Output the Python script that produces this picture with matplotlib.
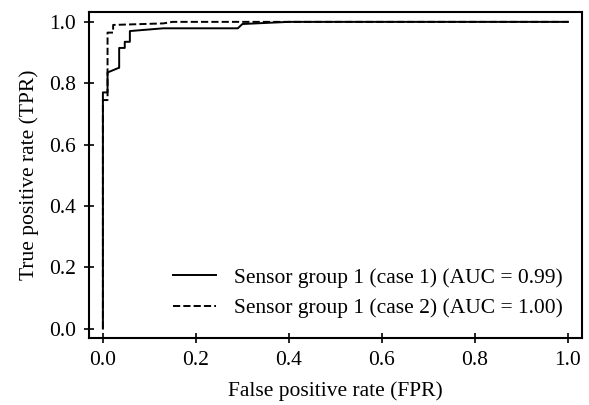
import matplotlib.pyplot as plt

plt.rcParams['font.family'] = ['Liberation Serif', 'DejaVu Serif']

# ROC curve, case 1 (solid)
fpr_case1 = [0.0, 0.0, 0.01, 0.01, 0.034, 0.035, 0.035, 0.047, 0.047, 0.058, 0.058,
             0.13, 0.29, 0.30, 0.40, 1.0]
tpr_case1 = [0.0, 0.77, 0.77, 0.835, 0.85, 0.85, 0.915, 0.915, 0.935, 0.935, 0.97,
             0.979, 0.979, 0.993, 1.0, 1.0]

# ROC curve, case 2 (dashed)
fpr_case2 = [0.0, 0.0, 0.01, 0.01, 0.022, 0.022, 0.13, 0.15, 1.0]
tpr_case2 = [0.0, 0.745, 0.745, 0.965, 0.965, 0.99, 0.995, 1.0, 1.0]

labels = ['Sensor group 1 (case 1) (AUC = 0.99)',
          'Sensor group 1 (case 2) (AUC = 1.00)']

fig = plt.figure(figsize=(5.89, 4.05), dpi=100)
ax = fig.add_axes([0.151, 0.166, 0.837, 0.805])

ax.plot(fpr_case1, tpr_case1, color='black', linestyle='-', linewidth=1.4, label=labels[0])
ax.plot(fpr_case2, tpr_case2, color='black', linestyle='--', linewidth=1.4, label=labels[1])

ax.set_xlim(-0.03, 1.03)
ax.set_ylim(-0.03, 1.033)
ax.set_xticks([0.0, 0.2, 0.4, 0.6, 0.8, 1.0])
ax.set_yticks([0.0, 0.2, 0.4, 0.6, 0.8, 1.0])
ax.tick_params(direction='inout', length=7, width=1.2, labelsize=15.5, pad=6)
for sp in ax.spines.values():
    sp.set_linewidth(1.5)

ax.set_xlabel('False positive rate (FPR)', fontsize=15.5, labelpad=8)
ax.set_ylabel('True positive rate (TPR)', fontsize=15.5, labelpad=7)
ax.legend(loc='lower right', frameon=False, fontsize=15.5)

fig.savefig('out.png', dpi=100)
